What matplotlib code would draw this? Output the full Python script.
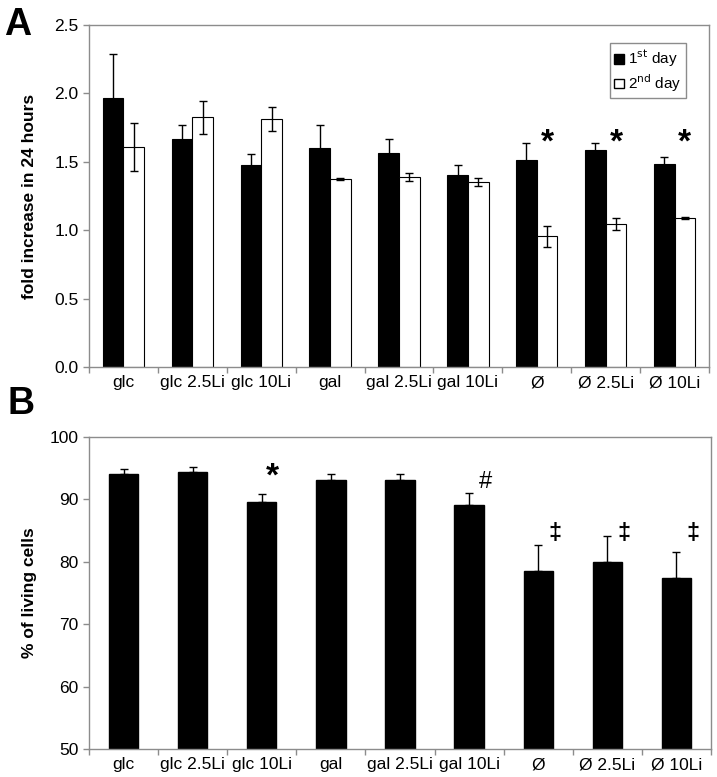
import matplotlib
matplotlib.use("Agg")
import matplotlib.pyplot as plt
from matplotlib.patches import Patch
import numpy as np

plt.rcParams['font.family'] = ['Liberation Sans', 'DejaVu Sans']

categories = ["glc", "glc 2.5Li", "glc 10Li", "gal", "gal 2.5Li", "gal 10Li", "Ø", "Ø 2.5Li", "Ø 10Li"]

# Panel A: fold increase in 24 hours
day1 = [1.97, 1.67, 1.48, 1.60, 1.565, 1.40, 1.51, 1.585, 1.485]
day1_err = [0.32, 0.10, 0.08, 0.17, 0.105, 0.08, 0.13, 0.055, 0.05]
day2 = [1.61, 1.825, 1.81, 1.375, 1.39, 1.35, 0.955, 1.043, 1.089]
day2_err = [0.175, 0.12, 0.087, 0.005, 0.03, 0.03, 0.075, 0.045, 0.005]
a_marks = ["", "", "", "", "", "", "*", "*", "*"]
a_mark_y = [None, None, None, None, None, None, 1.64, 1.64, 1.64]
a_yticks = [0.0, 0.5, 1.0, 1.5, 2.0, 2.5]

# Panel B: % of living cells
living = [94.1, 94.4, 89.6, 93.0, 93.0, 89.1, 78.5, 79.9, 77.4]
living_err = [0.8, 0.7, 1.3, 1.0, 1.0, 1.9, 4.2, 4.2, 4.2]
b_marks = ["", "", "*", "", "", "#", "‡", "‡", "‡"]
b_mark_y = [None, None, 93.6, None, None, 92.8, 84.5, 84.5, 84.5]
b_yticks = [50, 60, 70, 80, 90, 100]

W, H = 717, 777
fig = plt.figure(figsize=(W / 100, H / 100), dpi=100)

frame_col = "#8c8c8c"
tick_fs = 12.5

def style_axes(ax):
    for s in ax.spines.values():
        s.set_color(frame_col)
        s.set_linewidth(1.0)
    ax.tick_params(axis='both', colors=frame_col, labelcolor='black', labelsize=tick_fs,
                   direction='out', length=4, width=1)
    x = np.arange(len(categories))
    ax.set_xlim(-0.5, len(categories) - 0.5)
    ax.set_xticks(np.arange(len(categories) + 1) - 0.5)
    ax.set_xticklabels([])
    ax.set_xticks(x, minor=True)
    ax.set_xticklabels(categories, minor=True)
    ax.tick_params(axis='x', which='minor', length=0, labelsize=tick_fs, pad=6)

# ---------- Panel A ----------
axA = fig.add_axes([89 / W, 1 - 367 / H, 620 / W, 342 / H])
x = np.arange(len(categories))
bw = 0.3
axA.bar(x - bw / 2, day1, bw, color='black', edgecolor='black', linewidth=0.8, zorder=2)
axA.bar(x + bw / 2, day2, bw, color='white', edgecolor='black', linewidth=0.8, zorder=2)
axA.errorbar(x - bw / 2, day1, yerr=day1_err, fmt='none', ecolor='black', elinewidth=1.0,
             capsize=3, capthick=1.0, zorder=3)
axA.errorbar(x + bw / 2, day2, yerr=day2_err, fmt='none', ecolor='black', elinewidth=1.0,
             capsize=3, capthick=1.0, zorder=3)
for i, (m, yv) in enumerate(zip(a_marks, a_mark_y)):
    if m:
        axA.text(x[i] + bw / 2, yv, m, ha='center', va='center', fontsize=24, fontweight='bold')
axA.set_ylim(0, 2.5)
axA.set_yticks(a_yticks)
axA.set_yticklabels([f"{v:.1f}" for v in a_yticks])
style_axes(axA)
axA.set_ylabel("fold increase in 24 hours", fontsize=12.5, fontweight='bold')
axA.yaxis.set_label_coords(-0.084, 0.5)
handles = [Patch(facecolor='black', edgecolor='black'), Patch(facecolor='white', edgecolor='black')]
leg = axA.legend(handles, [r"1$^{\rm st}$ day", r"2$^{\rm nd}$ day"], loc='upper left',
                 bbox_to_anchor=(0.84, 0.948), borderaxespad=0, fancybox=False,
                 edgecolor=frame_col, fontsize=11, handlelength=0.6, handleheight=0.6,
                 handletextpad=0.3, borderpad=0.3, labelspacing=0.2, framealpha=1)
leg.get_frame().set_linewidth(1.0)

# ---------- Panel B ----------
axB = fig.add_axes([89 / W, 1 - 749 / H, 622 / W, 312.3 / H])
bwB = 0.425
axB.bar(x, living, bwB, color='black', edgecolor='black', zorder=2)
axB.errorbar(x, living, yerr=[np.zeros(len(living)), living_err], fmt='none', ecolor='black',
             elinewidth=1.0, capsize=3, capthick=1.0, zorder=3)
for i, (m, yv) in enumerate(zip(b_marks, b_mark_y)):
    if m:
        if m == "*":
            axB.text(x[i] + 0.15, yv, m, ha='center', va='center', fontsize=24, fontweight='bold')
        else:
            axB.text(x[i] + 0.24, yv, m, ha='center', va='center', fontsize=17,
                     fontweight='bold' if m == "‡" else 'normal')
axB.set_ylim(50, 100)
axB.set_yticks(b_yticks)
style_axes(axB)
axB.set_ylabel("% of living cells", fontsize=12.5, fontweight='bold')
axB.yaxis.set_label_coords(-0.084, 0.5)

fig.text(4 / W, 1 - 25 / H, "A", fontsize=27, fontweight='bold', va='center', ha='left')
fig.text(7 / W, 1 - 404 / H, "B", fontsize=27, fontweight='bold', va='center', ha='left')

fig.savefig("out.png", dpi=100)
